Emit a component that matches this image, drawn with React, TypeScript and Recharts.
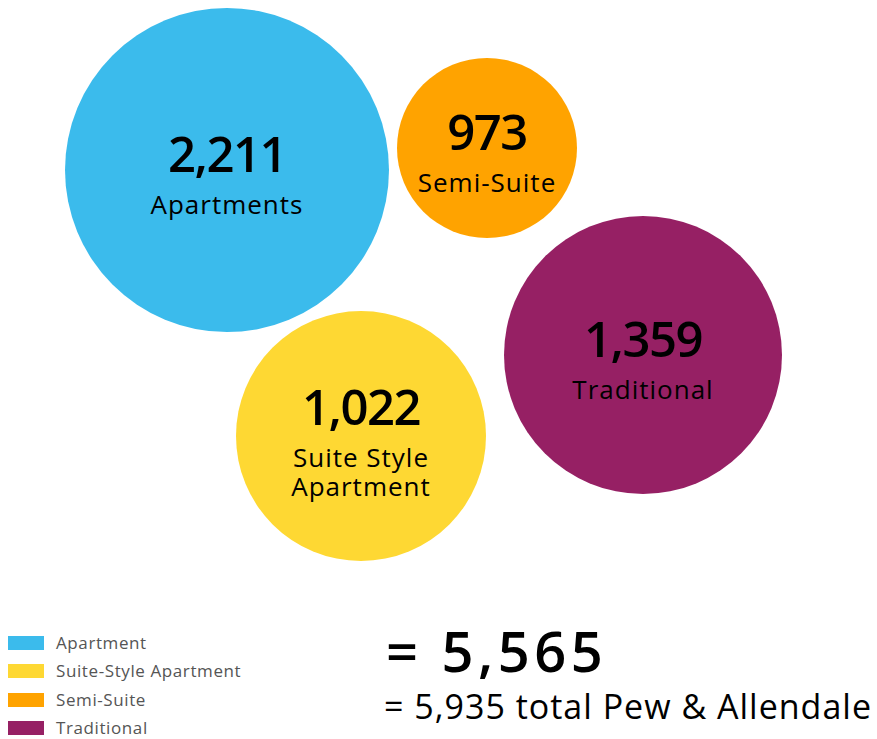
import { ScatterChart, Scatter, XAxis, YAxis, ZAxis } from "recharts";

const labels = ["Apartments", "Semi-Suite", "Traditional", "Suite Style\nApartment"];
const counts = [2211, 973, 1359, 1022];
const colors = ["#3bbbec", "#ffa300", "#962064", "#fed833"];
// bubble centres and radii (pixels)
const centerX = [227, 487, 643, 361];
const centerY = [170, 148, 355, 436];
const radius = [162, 90, 139, 125];

const legendNames = ["Apartment", "Suite-Style Apartment", "Semi-Suite", "Traditional"];
const legendColors = ["#3bbbec", "#fed833", "#ffa300", "#962064"];

const totalCampus = "= 5,565";
const totalAll = "= 5,935 total Pew & Allendale";

const W = 877;
const H = 739;
const FONT = "'Open Sans', sans-serif";

const bubbles = labels.map((label, i) => ({
  x: centerX[i],
  y: centerY[i],
  z: Math.PI * radius[i] * radius[i],
  label,
  count: counts[i],
  color: colors[i],
}));

function Bubble(props: any) {
  const { cx, cy, width, payload } = props;
  const lines: string[] = payload.label.split("\n");
  const top = lines.length > 1 ? cy - 11 : cy + 2;
  return (
    <g>
      <circle cx={cx} cy={cy} r={width / 2} fill={payload.color} />
      <text x={cx} y={top} textAnchor="middle" fontFamily={FONT} fontWeight={600} fontSize={49} letterSpacing={-1.5} fill="#000">
        {payload.count.toLocaleString("en-US")}
      </text>
      <text x={cx} y={top + 42} textAnchor="middle" fontFamily={FONT} fontSize={26} letterSpacing={1} fill="#000">
        {lines.map((l, i) => (
          <tspan key={i} x={cx} dy={i === 0 ? 0 : 29}>
            {l}
          </tspan>
        ))}
      </text>
    </g>
  );
}

export default function App() {
  return (
    <div style={{ position: "absolute", left: 0, top: 0, width: W, height: H, background: "#fff", fontFamily: FONT }}>
      <ScatterChart width={W} height={H} margin={{ top: 0, right: 0, bottom: 0, left: 0 }}>
        <XAxis type="number" dataKey="x" domain={[0, W]} hide />
        <YAxis type="number" dataKey="y" domain={[0, H]} reversed hide />
        <ZAxis type="number" dataKey="z" domain={[0, 100000]} range={[0, 100000]} />
        <Scatter data={bubbles} shape={<Bubble />} isAnimationActive={false} />
      </ScatterChart>
      <div style={{ position: "absolute", left: 8, top: 629 }}>
        {legendNames.map((n, i) => (
          <div key={n} style={{ display: "flex", alignItems: "center", height: 28.3 }}>
            <span style={{ width: 36, height: 14, background: legendColors[i], display: "inline-block", flex: "none" }} />
            <span style={{ marginLeft: 12, fontSize: 17, letterSpacing: 0.6, color: "#555", lineHeight: "18px", whiteSpace: "nowrap" }}>{n}</span>
          </div>
        ))}
      </div>
      <div style={{ position: "absolute", left: 386, top: 618, fontSize: 56, fontWeight: 600, letterSpacing: 4.5, color: "#000", lineHeight: "64px", whiteSpace: "nowrap" }}>
        {totalCampus}
      </div>
      <div style={{ position: "absolute", left: 384, top: 684, fontSize: 34, letterSpacing: 1, color: "#000", lineHeight: "44px", whiteSpace: "nowrap" }}>
        {totalAll}
      </div>
    </div>
  );
}
